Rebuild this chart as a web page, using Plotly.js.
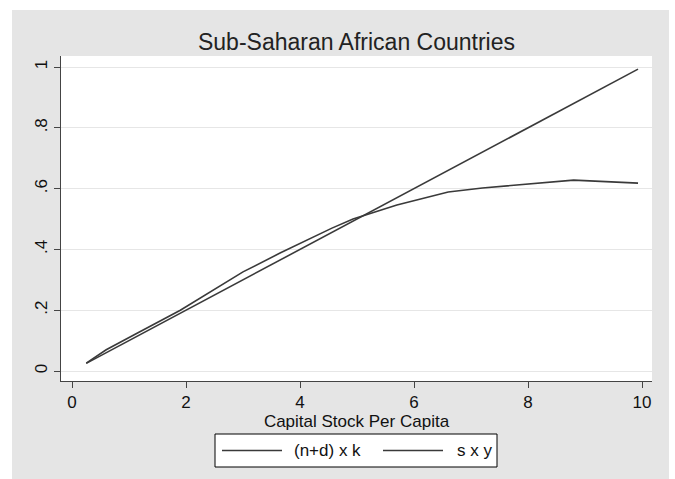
<!DOCTYPE html>
<html>
<head>
<meta charset="utf-8">
<script src="https://cdn.plot.ly/plotly-3.0.1.min.js"></script>
<style>
  html, body { margin: 0; padding: 0; background: #ffffff; }
  #wrap { position: absolute; left: 12px; top: 10px; width: 657px; height: 469px; }
  #chart { width: 657px; height: 469px; }
</style>
</head>
<body>
<div id="wrap"><div id="chart"></div></div>
<script>
// Capital stock per capita (x)
const capitalK = [0.25, 0.6, 1.1, 1.9, 3.0, 3.65, 4.56, 4.93, 5.7, 6.6, 7.2, 8.8, 9.93];
// (n+d) x k
const breakEven = [0.025, 0.06, 0.11, 0.19, 0.30, 0.365, 0.456, 0.493, 0.57, 0.66, 0.72, 0.88, 0.993];
// s x y
const savingsY = [0.026, 0.07, 0.12, 0.20, 0.326, 0.388, 0.47, 0.50, 0.546, 0.589, 0.602, 0.628, 0.618];

const seriesNames = ["(n+d) x k", "s x y"];
const xTicks = [0, 2, 4, 6, 8, 10];
const yTickVals = [0, 0.2, 0.4, 0.6, 0.8, 1];
const yTickText = ["0", ".2", ".4", ".6", ".8", "1"];

const FONT = "Liberation Sans, Arial, Helvetica, sans-serif";
const LINE = "#3a3a3a";

const W = 657, H = 469;
const M = { l: 49, r: 17, t: 46, b: 98 };
const PW = W - M.l - M.r, PH = H - M.t - M.b;
// convert div pixel positions to paper coordinates
const px = v => (v - M.l) / PW;
const py = v => (H - M.b - v) / PH;

const traces = [
  { x: capitalK, y: breakEven, name: seriesNames[0], type: "scatter", mode: "lines",
    line: { color: LINE, width: 1.6 } },
  { x: capitalK, y: savingsY, name: seriesNames[1], type: "scatter", mode: "lines",
    line: { color: LINE, width: 1.6 } }
];

// manual legend (div coordinates: page minus offset 12,10)
const OX = 12, OY = 10;
const box = { x0: 215 - OX, x1: 497 - OX, y0: 434 - OY, y1: 467 - OY };
const rowY = 450.5 - OY;
const samples = [{ x0: 222 - OX, x1: 282 - OX, tx: 292 - OX }, { x0: 383 - OX, x1: 443 - OX, tx: 455 - OX }];

const shapes = [
  { type: "rect", xref: "paper", yref: "paper", x0: px(box.x0), x1: px(box.x1), y0: py(box.y1), y1: py(box.y0),
    fillcolor: "#ffffff", line: { color: "#000000", width: 1 }, layer: "above" }
];
const annotations = [];
samples.forEach((s, i) => {
  shapes.push({ type: "line", xref: "paper", yref: "paper", x0: px(s.x0), x1: px(s.x1), y0: py(rowY), y1: py(rowY),
    line: { color: LINE, width: 1.4 }, layer: "above" });
  annotations.push({ xref: "paper", yref: "paper", x: px(s.tx), y: py(rowY), xanchor: "left", yanchor: "middle",
    text: seriesNames[i], showarrow: false, font: { family: FONT, size: 17, color: "#111" } });
});

const layout = {
  width: W, height: H,
  paper_bgcolor: "#e5e5e5",
  plot_bgcolor: "#ffffff",
  margin: { l: M.l, r: M.r, t: M.t, b: M.b, pad: 0 },
  font: { family: FONT, size: 17, color: "#111" },
  title: { text: "Sub-Saharan African Countries", x: 0.5, xref: "paper", xanchor: "center",
           y: 0.932, yref: "container", yanchor: "middle",
           font: { family: FONT, size: 23, color: "#222" } },
  showlegend: false,
  shapes: shapes,
  annotations: annotations,
  xaxis: {
    range: [-0.193, 10.175], tickvals: xTicks, ticktext: xTicks.map(String),
    showgrid: false, zeroline: false, showline: true, linecolor: "#444", linewidth: 1,
    ticks: "outside", ticklen: 6, tickcolor: "#444", tickwidth: 1,
    tickfont: { family: FONT, size: 17, color: "#111" },
    title: { text: "Capital Stock Per Capita", standoff: 2, font: { family: FONT, size: 17, color: "#111" } },
    automargin: false, fixedrange: true
  },
  yaxis: {
    range: [-0.0329, 1.0362], tickvals: yTickVals, ticktext: yTickText, tickangle: -90,
    showgrid: true, gridcolor: "#e6e6e6", gridwidth: 1,
    zeroline: false, showline: true, linecolor: "#444", linewidth: 1,
    ticks: "outside", ticklen: 6, tickcolor: "#444", tickwidth: 1,
    tickfont: { family: FONT, size: 17, color: "#111" },
    automargin: false, fixedrange: true
  }
};

Plotly.newPlot("chart", traces, layout, { displayModeBar: false, staticPlot: true });
</script>
</body>
</html>
